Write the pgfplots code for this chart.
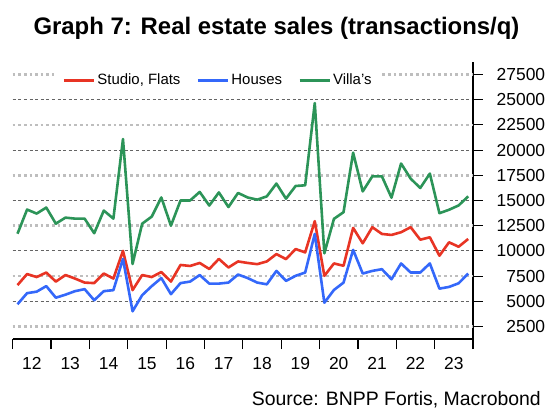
\documentclass[border=0pt]{standalone}
\usepackage{fontspec}
\setmainfont{Liberation Sans}
\usepackage{pgfplots}
\usepackage{pgfplotstable}
\pgfplotsset{compat=1.18}
\definecolor{cRed}{RGB}{232,52,36}
\definecolor{cBlue}{RGB}{52,104,250}
\definecolor{cGreen}{RGB}{44,148,88}
\definecolor{gridDot}{RGB}{190,190,190}
\definecolor{gridDash}{RGB}{100,100,100}
\pgfplotstableread{
x S H V
2012.125 6600 4700 11700
2012.375 7700 5800 14100
2012.625 7400 5950 13700
2012.875 7850 6500 14300
2013.125 6950 5350 12700
2013.375 7600 5650 13300
2013.625 7250 6000 13200
2013.875 6850 6200 13200
2014.125 6800 5100 11750
2014.375 7750 6000 14000
2014.625 7250 6100 13200
2014.875 10000 9200 21100
2015.125 6100 4000 8700
2015.375 7600 5600 12700
2015.625 7400 6500 13400
2015.875 7900 7300 15300
2016.125 6950 5700 12500
2016.375 8600 6800 15000
2016.625 8500 6950 15000
2016.875 8800 7600 15850
2017.125 8200 6750 14500
2017.375 9200 6750 15800
2017.625 8350 6850 14350
2017.875 8950 7650 15750
2018.125 8800 7300 15300
2018.375 8680 6850 15080
2018.625 8950 6680 15410
2018.875 9680 8010 16680
2019.125 9180 7020 15180
2019.375 10180 7520 16440
2019.625 9850 7850 16510
2019.875 12950 11680 24670
2020.125 7520 4850 9750
2020.375 8750 6120 13180
2020.625 8520 6850 13840
2020.875 12280 10100 19750
2021.125 10750 7750 15900
2021.375 12350 8010 17400
2021.625 11680 8180 17400
2021.875 11580 7180 15280
2022.125 11850 8750 18670
2022.375 12350 7850 17170
2022.625 11110 7850 16240
2022.875 11350 8750 17670
2023.125 9520 6250 13740
2023.375 10850 6420 14080
2023.625 10410 6780 14510
2023.875 11180 7750 15410
}\data
\begin{document}
\begin{tikzpicture}
\useasboundingbox (0,0) rectangle (550bp,412bp);
\begin{axis}[
  at={(12.7bp,73bp)}, anchor=south west,
  scale only axis, width=460.3bp, height=277bp,
  xmin=2012, xmax=2024, ymin=1250, ymax=28750,
  axis x line*=bottom, axis y line*=right,
  axis line style={-, black, line width=1.2bp},
  xtick={2012,2013,2014,2015,2016,2017,2018,2019,2020,2021,2022,2023,2024},
  xticklabels={12,13,14,15,16,17,18,19,20,21,22,23},
  x tick label as interval,
  ytick={5000,10000,15000,20000,25000},
  extra y ticks={2500,7500,12500,17500,22500,27500},
  scaled y ticks=false,
  ymajorgrids=true,
  major grid style={gridDash, line width=1bp, dash pattern=on 3bp off 2.6bp},
  extra y tick style={ymajorgrids=true,
     major grid style={gridDot, line width=2.6bp, dash pattern=on 2.6bp off 3bp},
     tick style={gridDot, line width=2.6bp}},
  tick align=outside,
  major tick length=10bp,
  x tick style={black, line width=1.2bp},
  y tick style={black, line width=1bp},
  /pgf/number format/assume math mode=true,
  /pgf/number format/set thousands separator={},
  ticklabel style={font=\fontsize{17.5}{20}\selectfont},
  yticklabel style={text width=62bp, align=right, inner sep=0pt},
  xticklabel style={yshift=-5bp},
  legend style={at={(axis description cs:0.446,0.935)}, anchor=center,
     draw=none, fill=white, font=\fontsize{15}{17}\selectfont,
     /tikz/every even column/.append style={column sep=14bp},
     inner xsep=8bp, inner ysep=2bp},
  legend columns=3,
  legend image code/.code={\draw[#1, line width=3bp] (0bp,0bp) -- (30bp,0bp);},
  every axis plot/.append style={line width=2.6bp, line join=round},
]
\addplot[cRed, no marks] table[x=x, y=S] {\data};
\addlegendentry{Studio, Flats}
\addplot[cBlue, no marks] table[x=x, y=H] {\data};
\addlegendentry{Houses}
\addplot[cGreen, no marks] table[x=x, y=V] {\data};
\addlegendentry{Villa's}
\end{axis}
\node[anchor=base, font=\bfseries\fontsize{24}{28}\selectfont] at (276.5bp,377bp) {Graph 7: Real estate sales (transactions/q)};
\node[anchor=base east, inner sep=0pt, font=\fontsize{19.5}{22}\selectfont] at (541bp,7bp) {Source: BNPP Fortis, Macrobond};
\end{tikzpicture}
\end{document}
